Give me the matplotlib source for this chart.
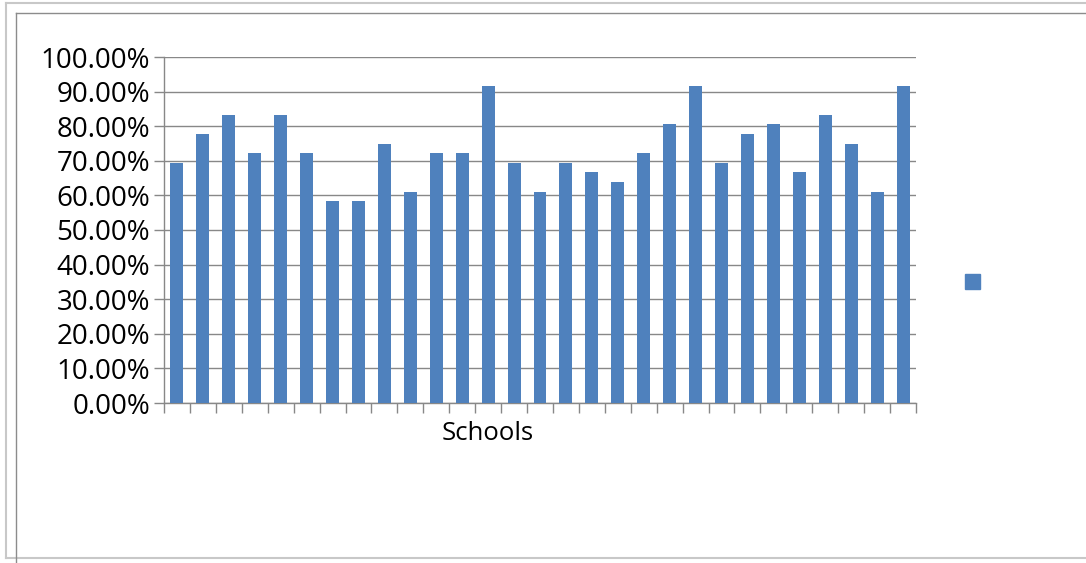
import numpy as np
import matplotlib.pyplot as plt
from matplotlib.lines import Line2D
from matplotlib.ticker import FuncFormatter

# pass rate per school (fractions)
schools = [f"School {i}" for i in range(1, 30)]
pass_rate = [0.6944, 0.7778, 0.8333, 0.7222, 0.8333, 0.7222, 0.5833, 0.5833, 0.75,
             0.6111, 0.7222, 0.7222, 0.9167, 0.6944, 0.6111, 0.6944, 0.6667, 0.6389,
             0.7222, 0.8056, 0.9167, 0.6944, 0.7778, 0.8056, 0.6667, 0.8333, 0.75,
             0.6111, 0.9167]
y_ticks = np.arange(0, 1.01, 0.1)

BAR_COLOR = "#4F81BD"
GRID_COLOR = "#888888"

plt.rcParams['font.family'] = ['Open Sans', 'DejaVu Sans']

fig = plt.figure(figsize=(10.86, 5.63), dpi=100)
ax = fig.add_axes([164 / 1086, 1 - 403 / 563, (916 - 164) / 1086, (403 - 57) / 563])

x = np.arange(len(schools))
ax.bar(x, pass_rate, width=0.5, color=BAR_COLOR, zorder=3, label="_")

ax.set_xlim(-0.5, len(schools) - 0.5)
ax.set_ylim(0, 1.0)
ax.set_yticks(y_ticks)
ax.yaxis.set_major_formatter(FuncFormatter(lambda v, p: f"{v * 100:.2f}%"))
ax.set_xticks(np.arange(len(schools) + 1) - 0.5)
ax.set_xticklabels([])
ax.tick_params(axis="y", labelsize=20, length=7, width=1, color=GRID_COLOR, pad=3)
ax.tick_params(axis="x", length=7, width=1, color=GRID_COLOR)

ax.grid(axis="y", color=GRID_COLOR, linewidth=1, zorder=0)
for s in ["top", "right"]:
    ax.spines[s].set_visible(False)
for s in ["left", "bottom"]:
    ax.spines[s].set_color(GRID_COLOR)
    ax.spines[s].set_linewidth(1)

# the label sits left of the axis centre in the original
ax.set_xlabel("Schools", fontsize=18.5)
ax.xaxis.set_label_coords((488 - 164) / 752, -0.052, transform=ax.transAxes)
ax.xaxis.label.set_va("top")

# legend entry with no text, just a marker square
fig.add_artist(plt.Rectangle((965 / 1086, 1 - 289 / 563), 15 / 1086, 15 / 563,
                             transform=fig.transFigure, color=BAR_COLOR))

# chart frame borders
def fline(xs, ys, color, lw=1.5):
    fig.add_artist(Line2D([v / 1086 for v in xs], [1 - v / 563 for v in ys],
                          transform=fig.transFigure, color=color, linewidth=lw))

fline([5.5, 1086], [3, 3], "#C8C8C8")
fline([5.5, 5.5], [3, 557.5], "#C8C8C8")
fline([5.5, 1086], [557.5, 557.5], "#C8C8C8")
fline([16, 1086], [13, 13], "#8C8C8C", 1)
fline([16, 16], [13, 563], "#8C8C8C", 1)

fig.savefig("out.png", dpi=100)
